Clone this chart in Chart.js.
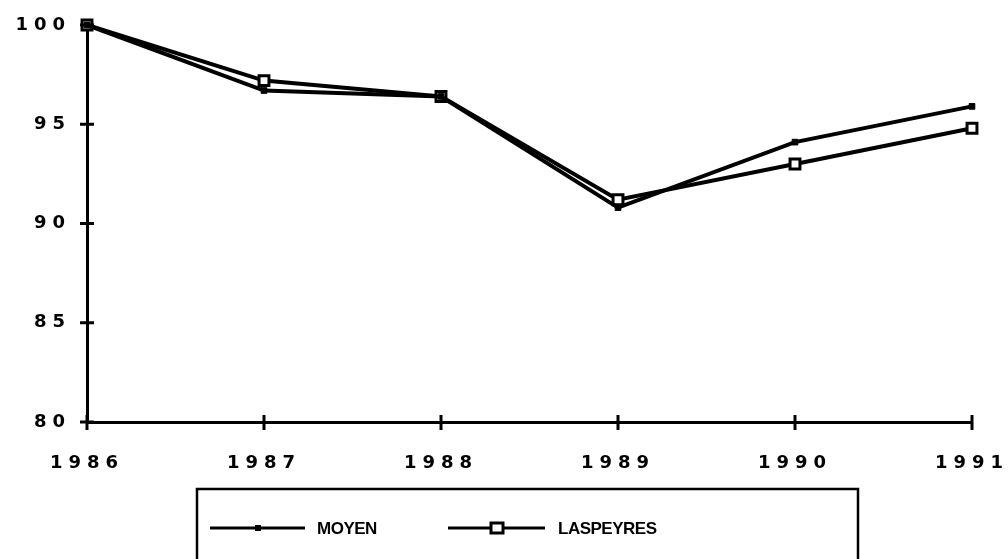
<!DOCTYPE html>
<html>
<head>
<meta charset="utf-8">
<script src="https://cdn.jsdelivr.net/npm/chart.js@4/dist/chart.umd.min.js"></script>
<style>
  html, body { margin: 0; padding: 0; background: #fff; }
  #wrap { width: 1008px; height: 559px; position: relative; }
</style>
</head>
<body>
<div id="wrap"><canvas id="indexChart" width="1008" height="559"></canvas></div>
<script>
const annees = ["1986", "1987", "1988", "1989", "1990", "1991"];
const moyen = [100, 96.7, 96.4, 90.8, 94.1, 95.9];
const laspeyres = [100, 97.2, 96.4, 91.2, 93.0, 94.8];
const yTicks = [80, 85, 90, 95, 100];

const tickFont = { family: "DejaVu Sans", size: 18, weight: "bold" };

// axes tick marks that cross the axis lines, like the old plotter output
const crossTicks = {
    id: "crossTicks",
    beforeDraw(chart) {
        chart.ctx.letterSpacing = "6px";
    },
    afterDraw(chart) {
        const ctx = chart.ctx;
        const x = chart.scales.x;
        const y = chart.scales.y;
        ctx.save();
        ctx.letterSpacing = "0px";
        ctx.strokeStyle = "#000";
        ctx.lineWidth = 3;
        ctx.beginPath();
        yTicks.forEach(v => {
            const py = y.getPixelForValue(v);
            ctx.moveTo(x.left - 7, py);
            ctx.lineTo(x.left + 7, py);
        });
        annees.forEach((a, i) => {
            const px = x.getPixelForValue(i);
            ctx.moveTo(px, y.bottom - 7);
            ctx.lineTo(px, y.bottom + 8);
        });
        ctx.stroke();
        ctx.restore();
    }
};

// boxed legend under the plot
const boxLegend = {
    id: "boxLegend",
    afterDraw(chart) {
        const ctx = chart.ctx;
        ctx.save();
        ctx.letterSpacing = "-0.5px";
        ctx.strokeStyle = "#000";
        ctx.lineWidth = 2.5;
        ctx.beginPath();
        ctx.moveTo(197, 570);
        ctx.lineTo(197, 489);
        ctx.lineTo(858, 489);
        ctx.lineTo(858, 570);
        ctx.stroke();

        const cy = 528;
        ctx.lineWidth = 3;
        ctx.beginPath();
        ctx.moveTo(210, cy); ctx.lineTo(305, cy);
        ctx.moveTo(448, cy); ctx.lineTo(545, cy);
        ctx.stroke();

        ctx.fillStyle = "#000";
        ctx.fillRect(255, cy - 3, 6, 6);
        ctx.fillStyle = "#fff";
        ctx.lineWidth = 3;
        ctx.fillRect(491, cy - 5, 12, 10);
        ctx.strokeRect(491, cy - 5, 12, 10);

        ctx.fillStyle = "#000";
        ctx.font = "bold 17px 'Liberation Sans'";
        ctx.textBaseline = "middle";
        ctx.fillText("MOYEN", 317, cy + 1);
        ctx.fillText("LASPEYRES", 558, cy + 1);
        ctx.restore();
    }
};

new Chart(document.getElementById("indexChart"), {
    type: "line",
    data: {
        labels: annees,
        datasets: [
            {
                label: "MOYEN",
                data: moyen,
                borderColor: "#000",
                backgroundColor: "#000",
                borderWidth: 4,
                tension: 0,
                pointStyle: "rect",
                pointRadius: 4,
                pointBorderWidth: 1,
                pointBackgroundColor: "#000",
                clip: false
            },
            {
                label: "LASPEYRES",
                data: laspeyres,
                borderColor: "#000",
                borderWidth: 4,
                tension: 0,
                pointStyle: "rect",
                pointRadius: 7,
                pointBorderWidth: 3,
                pointBackgroundColor: "#fff",
                clip: false
            }
        ]
    },
    options: {
        responsive: false,
        animation: false,
        layout: { padding: { top: 25, right: 36, left: 0, bottom: 0 } },
        plugins: {
            legend: { display: false },
            tooltip: { enabled: false }
        },
        scales: {
            x: {
                offset: false,
                grid: { display: false, drawTicks: false },
                border: { display: true, color: "#000", width: 3 },
                ticks: { color: "#000", font: tickFont, padding: 31, maxRotation: 0, autoSkip: false },
                afterFit(scale) {
                    scale.height = 137;
                    scale.paddingLeft = 0;
                    scale.paddingRight = 0;
                }
            },
            y: {
                min: 80,
                max: 100,
                afterBuildTicks(scale) { scale.ticks = yTicks.map(v => ({ value: v })); },
                grid: { display: false, drawTicks: false },
                border: { display: true, color: "#000", width: 3 },
                ticks: { color: "#000", font: tickFont, padding: 16 },
                afterFit(scale) {
                    scale.width = 87;
                    scale.paddingTop = 0;
                    scale.paddingBottom = 0;
                }
            }
        }
    },
    plugins: [crossTicks, boxLegend]
});
</script>
</body>
</html>
